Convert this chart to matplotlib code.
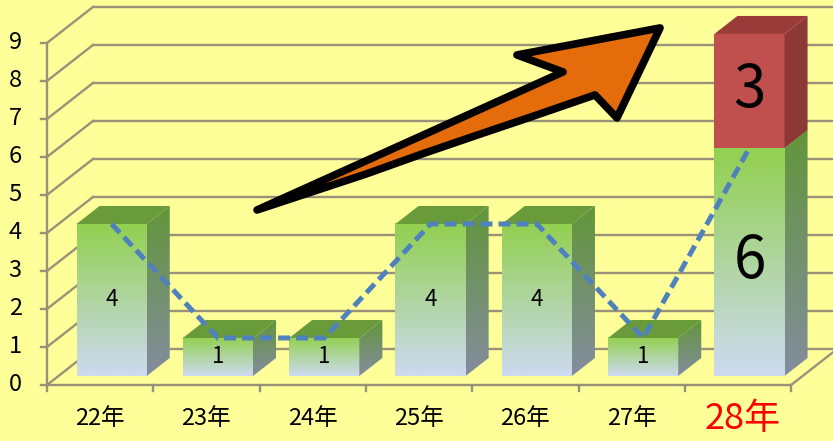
import matplotlib
matplotlib.use("Agg")
import matplotlib.pyplot as plt
from matplotlib.patches import Polygon
import numpy as np

plt.rcParams['font.family'] = ['Noto Sans CJK JP', 'DejaVu Sans']

# data
years = ['22年', '23年', '24年', '25年', '26年', '27年', '28年']
green_vals = [4, 1, 1, 4, 4, 1, 6]
red_vals = [0, 0, 0, 0, 0, 0, 3]
line_vals = [4, 1, 1, 4, 4, 1, 6]
yticks = list(range(10))

# fake 3d look
DX, DY = 0.433, 0.947     # full depth of the floor/walls in data units
F0, F1 = 0.25, 0.75       # bar depth range (fraction of full depth)
W = 0.66                  # bar width

bg = '#FFFF99'
grid_c = '#989278'

fig = plt.figure(figsize=(8.33, 4.41), dpi=100)
fig.patch.set_facecolor(bg)
ax = fig.add_axes([0, 0, 1, 1])
ax.set_facecolor(bg)
ax.set_xlim(-0.442, 7.394)
ax.set_ylim(-1.474, 10.13)
ax.axis('off')

# walls / gridlines
for v in yticks:
    ax.plot([0, DX], [v, v + DY], color=grid_c, lw=1.7, zorder=1)
    ax.plot([DX, 8], [v + DY, v + DY], color=grid_c, lw=1.7, zorder=1)
    ax.plot([-0.06, 0], [v, v], color=grid_c, lw=1.7, zorder=1)
    ax.text(-0.30, v, str(v), ha='center', va='center', fontsize=17, color='black')
ax.plot([0, 0], [0, 9], color=grid_c, lw=1.7, zorder=1)
ax.plot([0, 7], [0, 0], color=grid_c, lw=1.7, zorder=1)
ax.plot([7, 7 + DX], [0, DY], color=grid_c, lw=1.7, zorder=1)
for i in range(8):
    ax.plot([i, i], [0, -0.16], color=grid_c, lw=1.7, zorder=1)


def grad(c_top, c_bot, n=64):
    t = np.linspace(0, 1, n)[:, None]
    a = np.array(c_top) / 255.0
    b = np.array(c_bot) / 255.0
    return (a * (1 - t) + b * t)[:, None, :]


front_grad = grad((146, 208, 80), (205, 218, 240))
side_grad = grad((98, 150, 58), (132, 140, 158))
top_green = '#6A9B3A'
red_front = '#C0504D'
red_side = '#8C3836'
red_top = '#9B3B39'


def draw_block(i, y0, y1, kind, z):
    cx = i + 0.5 + F0 * DX
    l, r = cx - W / 2, cx + W / 2
    b, t = y0 + F0 * DY, y1 + F0 * DY
    ddx, ddy = (F1 - F0) * DX, (F1 - F0) * DY
    side = [(r, b), (r + ddx, b + ddy), (r + ddx, t + ddy), (r, t)]
    top = [(l, t), (r, t), (r + ddx, t + ddy), (l + ddx, t + ddy)]
    if kind == 'green':
        ax.imshow(front_grad, extent=[l, r, b, t], aspect='auto', zorder=z, interpolation='bilinear')
        sp = Polygon(side, closed=True, facecolor='none', edgecolor='none')
        ax.add_patch(sp)
        im = ax.imshow(side_grad, extent=[r, r + ddx, b, t + ddy], aspect='auto', zorder=z,
                       interpolation='bilinear')
        im.set_clip_path(sp)
        ax.add_patch(Polygon(top, closed=True, facecolor=top_green, edgecolor='none', zorder=z))
    else:
        ax.add_patch(Polygon([(l, b), (r, b), (r, t), (l, t)], closed=True,
                             facecolor=red_front, edgecolor='none', zorder=z))
        ax.add_patch(Polygon(side, closed=True, facecolor=red_side, edgecolor='none', zorder=z))
        ax.add_patch(Polygon(top, closed=True, facecolor=red_top, edgecolor='none', zorder=z))
    return cx, (b + t) / 2


for i in range(len(years)):
    g = green_vals[i]
    cx, my = draw_block(i, 0, g, 'green', 3)
    big = red_vals[i] > 0
    ax.text(cx, my, str(g), ha='center', va='center', fontsize=42 if big else 16,
            color='black', zorder=6)
    if big:
        cx, my = draw_block(i, g, g + red_vals[i], 'red', 4)
        ax.text(cx, my, str(red_vals[i]), ha='center', va='center', fontsize=42,
                color='black', zorder=6)

# dashed trend line
lx = [i + 0.5 + F0 * DX for i in range(len(line_vals))]
ly = [v + F0 * DY for v in line_vals]
ax.plot(lx, ly, color='#4F81BD', lw=3.6, linestyle=(0, (2.4, 1.2)), zorder=7,
        dash_capstyle='butt', dash_joinstyle='miter')

# x labels
for i, lab in enumerate(years):
    if i == len(years) - 1:
        ax.text(i + 0.54, -0.9, lab, ha='center', va='center', fontsize=26, color='#FF0000')
    else:
        ax.text(i + 0.5, -0.89, lab, ha='center', va='center', fontsize=17, color='black')

# big orange arrow annotation
arrow = [(1.976, 4.605), (4.854, 8.237), (4.421, 8.684), (5.767, 9.395),
         (5.362, 7.026), (5.155, 7.632), (4.55, 7.05), (4.073, 6.60),
         (3.55, 6.10), (3.00, 5.55)]
ax.add_patch(Polygon(arrow, closed=True, facecolor='#E46C0A', edgecolor='black',
                     lw=5.5, joinstyle='round', zorder=8))

fig.savefig('out.png', dpi=100, facecolor=bg)
